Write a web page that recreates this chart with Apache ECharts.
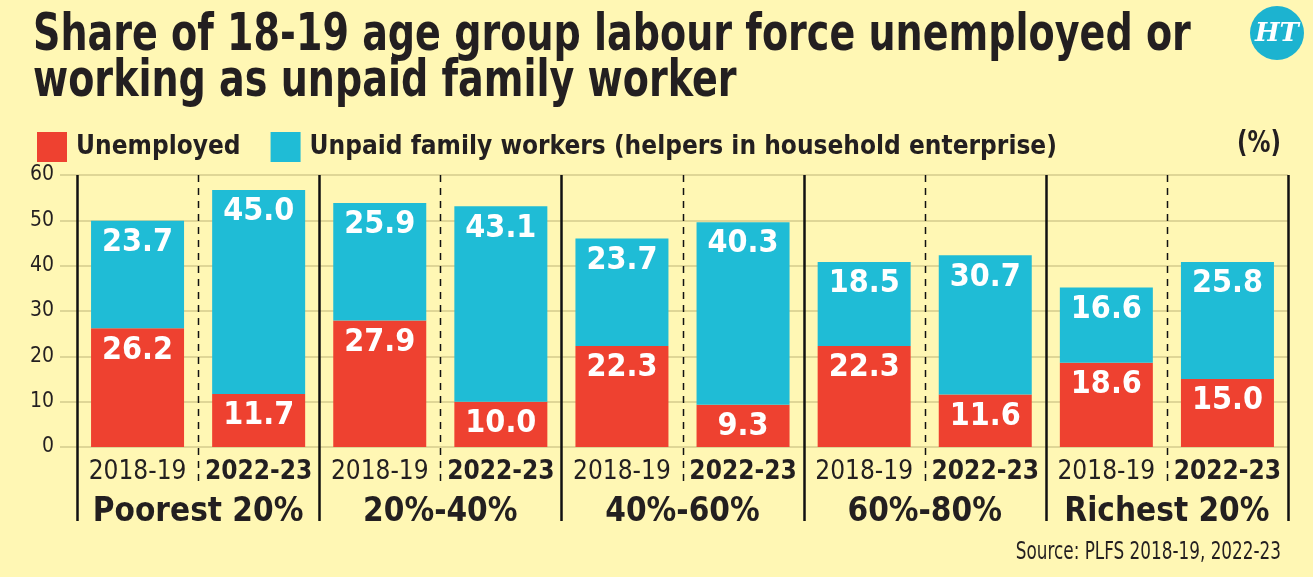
<!DOCTYPE html>
<html>
<head>
<meta charset="utf-8">
<script src="https://cdn.jsdelivr.net/npm/echarts@6/dist/echarts.min.js"></script>
<style>
  html, body { margin: 0; padding: 0; background: #FFF7B4; }
  #chart { width: 1313px; height: 577px; }
</style>
</head>
<body>
<div id="chart"></div>
<script>
// data
var years = ['2018-19', '2022-23', '2018-19', '2022-23', '2018-19', '2022-23', '2018-19', '2022-23', '2018-19', '2022-23'];
var groups = ['Poorest 20%', '20%-40%', '40%-60%', '60%-80%', 'Richest 20%'];
var unemployed = [26.2, 11.7, 27.9, 10.0, 22.3, 9.3, 22.3, 11.6, 18.6, 15.0];
var unpaid = [23.7, 45.0, 25.9, 43.1, 23.7, 40.3, 18.5, 30.7, 16.6, 25.8];
var yTicks = [0, 10, 20, 30, 40, 50, 60];

var FONT = '"DejaVu Sans Condensed", sans-serif';
var RED = '#EE4130';
var CYAN = '#1FBCD6';
var INK = '#231F20';
var GRID = '#D4CB8C';

var chart = echarts.init(document.getElementById('chart'));

var barLabel = {
    show: true,
    position: 'insideTop',
    distance: 6,
    color: '#fff',
    fontFamily: FONT,
    fontWeight: 'bold',
    fontSize: 32,
    formatter: function (p) { return p.value.toFixed(1); }
};

var option = {
    backgroundColor: '#FFF7B4',
    animation: false,
    legend: {
        left: 32,
        top: 127,
        icon: 'rect',
        itemWidth: 30,
        itemHeight: 30,
        itemGap: 30,
        data: ['Unemployed', 'Unpaid family workers (helpers in household enterprise)'],
        textStyle: {
            fontFamily: FONT,
            fontWeight: 'bold',
            fontSize: 26,
            color: INK,
            padding: [0, 0, 0, 4]
        }
    },
    grid: {
        left: 77,
        right: 25,
        top: 175,
        bottom: 130
    },
    xAxis: [{
        type: 'category',
        data: years,
        axisLine: { show: false },
        axisTick: { show: false },
        axisLabel: {
            interval: 0,
            margin: 12,
            formatter: function (v, i) {
                return i % 2 ? '{b|' + v + '}' : '{a|' + v + '}';
            },
            rich: {
                a: { fontFamily: FONT, fontSize: 26, color: INK },
                b: { fontFamily: FONT, fontSize: 26, fontWeight: 'bold', color: INK }
            }
        }
    }, {
        type: 'category',
        data: groups,
        position: 'bottom',
        offset: 45,
        axisLine: { show: false },
        axisTick: { show: false },
        axisLabel: {
            interval: 0,
            margin: 4,
            fontFamily: FONT,
            fontWeight: 'bold',
            fontSize: 33,
            color: INK
        }
    }],
    yAxis: {
        type: 'value',
        min: yTicks[0],
        max: yTicks[yTicks.length - 1],
        interval: 10,
        axisLine: { show: false },
        axisTick: { show: true, length: 17, lineStyle: { color: GRID, width: 1.5 } },
        splitLine: { lineStyle: { color: GRID, width: 1.5 } },
        axisLabel: {
            margin: 23,
            fontFamily: FONT,
            fontSize: 21,
            color: INK
        }
    },
    series: [{
        name: 'Unemployed',
        type: 'bar',
        stack: 'total',
        barWidth: 93,
        itemStyle: { color: RED },
        label: barLabel,
        data: unemployed
    }, {
        name: 'Unpaid family workers (helpers in household enterprise)',
        type: 'bar',
        stack: 'total',
        barWidth: 93,
        itemStyle: { color: CYAN },
        label: barLabel,
        data: unpaid
    }]
};

chart.setOption(option);

// separators between groups (solid) and years (dashed), placed from the axis scale
var plotTop = chart.convertToPixel({ yAxisIndex: 0 }, yTicks[yTicks.length - 1]);
var step = chart.convertToPixel({ xAxisIndex: 0 }, 1) - chart.convertToPixel({ xAxisIndex: 0 }, 0);
var graphics = [];
for (var i = 0; i <= years.length; i++) {
    var x = chart.convertToPixel({ xAxisIndex: 0 }, Math.min(i, years.length - 1)) + (i === years.length ? step / 2 : -step / 2);
    x = Math.round(x) + 0.5;
    var solid = i % 2 === 0;
    graphics.push({
        type: 'line',
        z: 10,
        shape: { x1: x, y1: plotTop, x2: x, y2: solid ? 521 : 481 },
        style: solid ? { stroke: '#111', lineWidth: 2.5 } : { stroke: '#111', lineWidth: 1.5, lineDash: [7, 6] }
    });
}

// title, unit, source and logo (condensed by horizontal scaling)
graphics.push({
    type: 'text', x: 33, y: 14, scaleX: 0.83,
    style: {
        text: 'Share of 18-19 age group labour force unemployed or\nworking as unpaid family worker',
        fontFamily: FONT, fontWeight: 'bold', fontSize: 51, lineHeight: 46, fill: INK
    }
});
graphics.push({
    type: 'text', x: 1281, y: 129, scaleX: 0.85,
    style: { text: '(%)', fontFamily: FONT, fontWeight: 'bold', fontSize: 30, fill: INK, align: 'right' }
});
graphics.push({
    type: 'text', x: 1281, y: 541, scaleX: 0.78,
    style: { text: 'Source: PLFS 2018-19, 2022-23', fontFamily: FONT, fontSize: 24, fill: INK, align: 'right' }
});
graphics.push({
    type: 'circle', shape: { cx: 1277, cy: 33, r: 27 }, style: { fill: '#1CB3D0' }
});
graphics.push({
    type: 'text', x: 1277, y: 34,
    style: { text: 'HT', fontFamily: '"DejaVu Serif", serif', fontWeight: 'bold', fontStyle: 'italic', fontSize: 26, fill: '#fff', align: 'center', verticalAlign: 'middle' }
});

chart.setOption({ graphic: graphics });
</script>
</body>
</html>
